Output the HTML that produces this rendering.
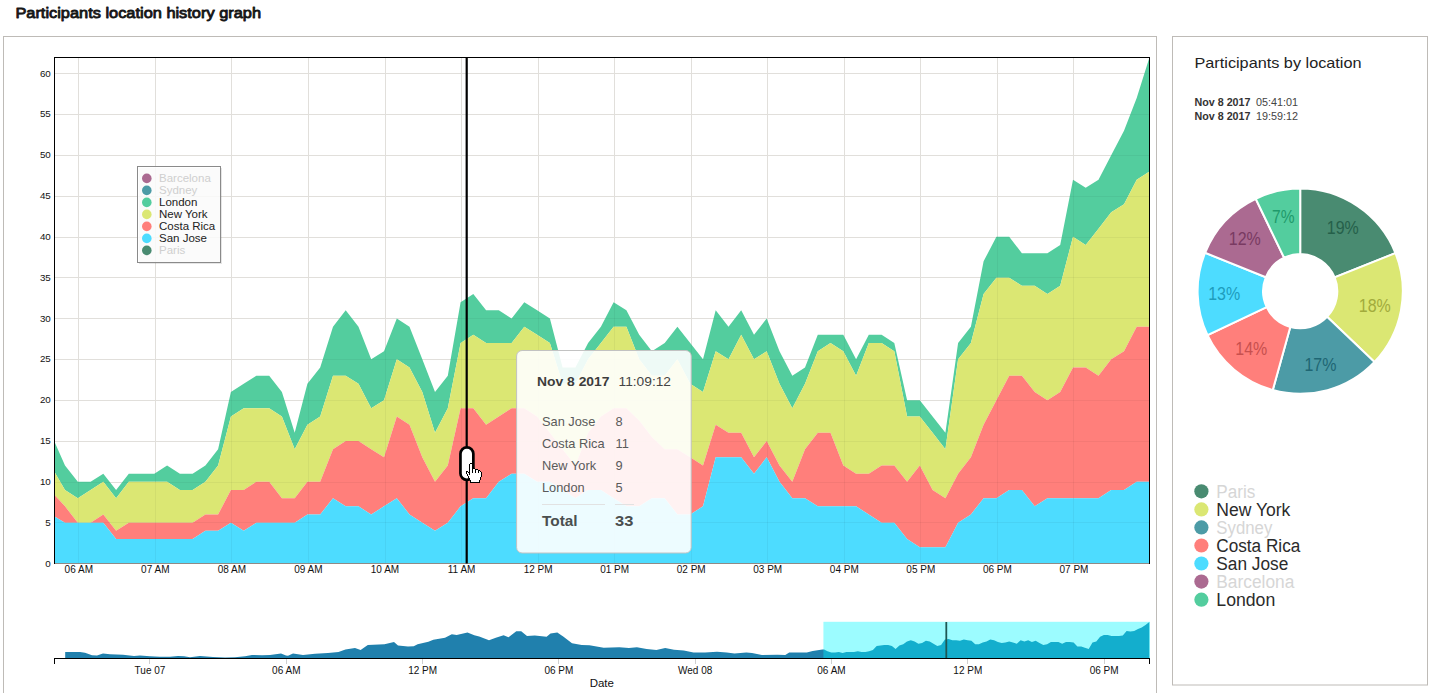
<!DOCTYPE html>
<html><head><meta charset="utf-8"><title>Participants location history graph</title>
<style>html,body{margin:0;padding:0;background:#fff;overflow:hidden}body{width:1433px;height:693px;position:relative;font-family:"Liberation Sans",sans-serif}</style>
</head><body>
<svg width="1433" height="693" viewBox="0 0 1433 693" style="position:absolute;left:0;top:0;font-family:'Liberation Sans',sans-serif">
<rect width="1433" height="693" fill="#fff"/>
<rect x="3.5" y="36.5" width="1153" height="700" fill="#fff" stroke="#bebbb7" stroke-width="1"/>
<rect x="1172.5" y="36.5" width="255" height="648.5" fill="#fff" stroke="#bebbb7" stroke-width="1"/>
<text x="15.4" y="18.0" font-size="15.0" fill="#161616" stroke="#161616" stroke-width="0.85" stroke-linejoin="round" textLength="245.6" lengthAdjust="spacingAndGlyphs">Participants location history graph</text>
<g stroke="#e1dfdb" stroke-width="1" shape-rendering="crispEdges">
<line x1="53.5" x2="1149.5" y1="563.50" y2="563.50"/>
<line x1="53.5" x2="1149.5" y1="522.50" y2="522.50"/>
<line x1="53.5" x2="1149.5" y1="482.50" y2="482.50"/>
<line x1="53.5" x2="1149.5" y1="441.50" y2="441.50"/>
<line x1="53.5" x2="1149.5" y1="400.50" y2="400.50"/>
<line x1="53.5" x2="1149.5" y1="359.50" y2="359.50"/>
<line x1="53.5" x2="1149.5" y1="318.50" y2="318.50"/>
<line x1="53.5" x2="1149.5" y1="277.50" y2="277.50"/>
<line x1="53.5" x2="1149.5" y1="237.50" y2="237.50"/>
<line x1="53.5" x2="1149.5" y1="196.50" y2="196.50"/>
<line x1="53.5" x2="1149.5" y1="155.50" y2="155.50"/>
<line x1="53.5" x2="1149.5" y1="114.50" y2="114.50"/>
<line x1="53.5" x2="1149.5" y1="73.50" y2="73.50"/>
<line x1="78.50" x2="78.50" y1="57.0" y2="563.5"/>
<line x1="155.50" x2="155.50" y1="57.0" y2="563.5"/>
<line x1="231.50" x2="231.50" y1="57.0" y2="563.5"/>
<line x1="308.50" x2="308.50" y1="57.0" y2="563.5"/>
<line x1="385.50" x2="385.50" y1="57.0" y2="563.5"/>
<line x1="461.50" x2="461.50" y1="57.0" y2="563.5"/>
<line x1="538.50" x2="538.50" y1="57.0" y2="563.5"/>
<line x1="614.50" x2="614.50" y1="57.0" y2="563.5"/>
<line x1="691.50" x2="691.50" y1="57.0" y2="563.5"/>
<line x1="767.50" x2="767.50" y1="57.0" y2="563.5"/>
<line x1="844.50" x2="844.50" y1="57.0" y2="563.5"/>
<line x1="920.50" x2="920.50" y1="57.0" y2="563.5"/>
<line x1="997.50" x2="997.50" y1="57.0" y2="563.5"/>
<line x1="1073.50" x2="1073.50" y1="57.0" y2="563.5"/>
</g>
<g>
<path d="M54.5,441.8 L65.0,465.5 L77.8,481.8 L90.6,481.8 L103.3,473.7 L116.1,490.0 L128.8,473.7 L141.6,473.7 L154.3,473.7 L167.1,465.5 L179.9,473.7 L192.6,473.7 L205.4,465.5 L218.1,449.2 L230.9,392.0 L243.7,383.8 L256.4,375.7 L269.2,375.7 L281.9,392.0 L294.7,432.8 L307.4,383.8 L320.2,367.5 L333.0,326.7 L345.7,310.3 L358.5,326.7 L371.2,359.3 L384.0,351.2 L396.8,318.5 L409.5,326.7 L422.3,359.3 L435.0,392.0 L447.8,375.7 L460.6,302.2 L473.3,294.0 L486.1,310.3 L498.8,310.3 L511.6,318.5 L524.3,302.2 L537.1,310.3 L549.9,318.5 L562.6,367.5 L575.4,367.5 L588.1,343.0 L600.9,326.7 L613.6,302.2 L626.4,310.3 L639.2,334.8 L651.9,351.2 L664.7,343.0 L677.4,326.7 L690.2,343.0 L703.0,359.3 L715.7,310.3 L728.5,326.7 L741.2,310.3 L754.0,334.8 L766.7,318.5 L779.5,351.2 L792.3,375.7 L805.0,367.5 L817.8,334.8 L830.5,334.8 L843.3,334.8 L856.1,359.3 L868.8,334.8 L881.6,334.8 L894.3,343.0 L907.1,400.2 L919.8,400.2 L932.6,416.5 L945.4,432.8 L958.1,343.0 L970.9,326.7 L983.6,261.3 L996.4,236.8 L1009.2,236.8 L1021.9,253.2 L1034.7,253.2 L1047.4,253.2 L1060.2,245.0 L1073.0,179.7 L1085.7,187.8 L1098.5,179.7 L1111.2,155.2 L1124.0,130.7 L1136.7,98.0 L1149.5,57.2 L1149.5,171.5 L1136.7,179.7 L1124.0,204.2 L1111.2,212.3 L1098.5,228.7 L1085.7,245.0 L1073.0,236.8 L1060.2,285.8 L1047.4,294.0 L1034.7,285.8 L1021.9,285.8 L1009.2,277.7 L996.4,277.7 L983.6,294.0 L970.9,343.0 L958.1,359.3 L945.4,449.2 L932.6,432.8 L919.8,416.5 L907.1,416.5 L894.3,351.2 L881.6,343.0 L868.8,343.0 L856.1,375.7 L843.3,351.2 L830.5,343.0 L817.8,351.2 L805.0,383.8 L792.3,408.3 L779.5,383.8 L766.7,351.2 L754.0,359.3 L741.2,334.8 L728.5,359.3 L715.7,351.2 L703.0,392.0 L690.2,383.8 L677.4,359.3 L664.7,375.7 L651.9,375.7 L639.2,359.3 L626.4,326.7 L613.6,326.7 L600.9,343.0 L588.1,359.3 L575.4,383.8 L562.6,383.8 L549.9,343.0 L537.1,334.8 L524.3,326.7 L511.6,343.0 L498.8,343.0 L486.1,343.0 L473.3,334.8 L460.6,343.0 L447.8,408.3 L435.0,432.8 L422.3,392.0 L409.5,367.5 L396.8,359.3 L384.0,400.2 L371.2,408.3 L358.5,383.8 L345.7,375.7 L333.0,375.7 L320.2,416.5 L307.4,424.7 L294.7,449.2 L281.9,416.5 L269.2,408.3 L256.4,408.3 L243.7,408.3 L230.9,416.5 L218.1,465.5 L205.4,481.8 L192.6,490.0 L179.9,490.0 L167.1,481.8 L154.3,481.8 L141.6,481.8 L128.8,481.8 L116.1,498.2 L103.3,481.8 L90.6,490.0 L77.8,498.2 L65.0,490.0 L54.5,472.0 Z" fill="#53cd9e"/>
<path d="M54.5,472.0 L65.0,490.0 L77.8,498.2 L90.6,490.0 L103.3,481.8 L116.1,498.2 L128.8,481.8 L141.6,481.8 L154.3,481.8 L167.1,481.8 L179.9,490.0 L192.6,490.0 L205.4,481.8 L218.1,465.5 L230.9,416.5 L243.7,408.3 L256.4,408.3 L269.2,408.3 L281.9,416.5 L294.7,449.2 L307.4,424.7 L320.2,416.5 L333.0,375.7 L345.7,375.7 L358.5,383.8 L371.2,408.3 L384.0,400.2 L396.8,359.3 L409.5,367.5 L422.3,392.0 L435.0,432.8 L447.8,408.3 L460.6,343.0 L473.3,334.8 L486.1,343.0 L498.8,343.0 L511.6,343.0 L524.3,326.7 L537.1,334.8 L549.9,343.0 L562.6,383.8 L575.4,383.8 L588.1,359.3 L600.9,343.0 L613.6,326.7 L626.4,326.7 L639.2,359.3 L651.9,375.7 L664.7,375.7 L677.4,359.3 L690.2,383.8 L703.0,392.0 L715.7,351.2 L728.5,359.3 L741.2,334.8 L754.0,359.3 L766.7,351.2 L779.5,383.8 L792.3,408.3 L805.0,383.8 L817.8,351.2 L830.5,343.0 L843.3,351.2 L856.1,375.7 L868.8,343.0 L881.6,343.0 L894.3,351.2 L907.1,416.5 L919.8,416.5 L932.6,432.8 L945.4,449.2 L958.1,359.3 L970.9,343.0 L983.6,294.0 L996.4,277.7 L1009.2,277.7 L1021.9,285.8 L1034.7,285.8 L1047.4,294.0 L1060.2,285.8 L1073.0,236.8 L1085.7,245.0 L1098.5,228.7 L1111.2,212.3 L1124.0,204.2 L1136.7,179.7 L1149.5,171.5 L1149.5,326.7 L1136.7,326.7 L1124.0,351.2 L1111.2,359.3 L1098.5,375.7 L1085.7,367.5 L1073.0,367.5 L1060.2,392.0 L1047.4,400.2 L1034.7,392.0 L1021.9,375.7 L1009.2,375.7 L996.4,400.2 L983.6,424.7 L970.9,457.3 L958.1,473.7 L945.4,498.2 L932.6,490.0 L919.8,465.5 L907.1,481.8 L894.3,465.5 L881.6,465.5 L868.8,473.7 L856.1,473.7 L843.3,465.5 L830.5,432.8 L817.8,432.8 L805.0,449.2 L792.3,481.8 L779.5,465.5 L766.7,441.0 L754.0,457.3 L741.2,432.8 L728.5,432.8 L715.7,424.7 L703.0,465.5 L690.2,457.3 L677.4,449.2 L664.7,449.2 L651.9,436.9 L639.2,420.6 L626.4,408.3 L613.6,408.3 L600.9,416.5 L588.1,432.8 L575.4,465.5 L562.6,449.2 L549.9,432.8 L537.1,416.5 L524.3,408.3 L511.6,408.3 L498.8,416.5 L486.1,424.7 L473.3,408.3 L460.6,408.3 L447.8,465.5 L435.0,481.8 L422.3,457.3 L409.5,424.7 L396.8,416.5 L384.0,457.3 L371.2,449.2 L358.5,441.0 L345.7,441.0 L333.0,449.2 L320.2,481.8 L307.4,481.8 L294.7,498.2 L281.9,498.2 L269.2,481.8 L256.4,481.8 L243.7,490.0 L230.9,490.0 L218.1,514.5 L205.4,514.5 L192.6,522.7 L179.9,522.7 L167.1,522.7 L154.3,522.7 L141.6,522.7 L128.8,522.7 L116.1,530.8 L103.3,514.5 L90.6,522.7 L77.8,522.7 L65.0,506.3 L54.5,494.9 Z" fill="#dbe773"/>
<path d="M54.5,494.9 L65.0,506.3 L77.8,522.7 L90.6,522.7 L103.3,514.5 L116.1,530.8 L128.8,522.7 L141.6,522.7 L154.3,522.7 L167.1,522.7 L179.9,522.7 L192.6,522.7 L205.4,514.5 L218.1,514.5 L230.9,490.0 L243.7,490.0 L256.4,481.8 L269.2,481.8 L281.9,498.2 L294.7,498.2 L307.4,481.8 L320.2,481.8 L333.0,449.2 L345.7,441.0 L358.5,441.0 L371.2,449.2 L384.0,457.3 L396.8,416.5 L409.5,424.7 L422.3,457.3 L435.0,481.8 L447.8,465.5 L460.6,408.3 L473.3,408.3 L486.1,424.7 L498.8,416.5 L511.6,408.3 L524.3,408.3 L537.1,416.5 L549.9,432.8 L562.6,449.2 L575.4,465.5 L588.1,432.8 L600.9,416.5 L613.6,408.3 L626.4,408.3 L639.2,420.6 L651.9,436.9 L664.7,449.2 L677.4,449.2 L690.2,457.3 L703.0,465.5 L715.7,424.7 L728.5,432.8 L741.2,432.8 L754.0,457.3 L766.7,441.0 L779.5,465.5 L792.3,481.8 L805.0,449.2 L817.8,432.8 L830.5,432.8 L843.3,465.5 L856.1,473.7 L868.8,473.7 L881.6,465.5 L894.3,465.5 L907.1,481.8 L919.8,465.5 L932.6,490.0 L945.4,498.2 L958.1,473.7 L970.9,457.3 L983.6,424.7 L996.4,400.2 L1009.2,375.7 L1021.9,375.7 L1034.7,392.0 L1047.4,400.2 L1060.2,392.0 L1073.0,367.5 L1085.7,367.5 L1098.5,375.7 L1111.2,359.3 L1124.0,351.2 L1136.7,326.7 L1149.5,326.7 L1149.5,481.8 L1136.7,481.8 L1124.0,490.0 L1111.2,490.0 L1098.5,498.2 L1085.7,498.2 L1073.0,498.2 L1060.2,498.2 L1047.4,498.2 L1034.7,506.3 L1021.9,490.0 L1009.2,490.0 L996.4,498.2 L983.6,498.2 L970.9,514.5 L958.1,522.7 L945.4,547.2 L932.6,547.2 L919.8,547.2 L907.1,539.0 L894.3,522.7 L881.6,522.7 L868.8,514.5 L856.1,506.3 L843.3,506.3 L830.5,506.3 L817.8,506.3 L805.0,498.2 L792.3,498.2 L779.5,481.8 L766.7,457.3 L754.0,473.7 L741.2,457.3 L728.5,457.3 L715.7,457.3 L703.0,506.3 L690.2,514.5 L677.4,514.5 L664.7,498.2 L651.9,498.2 L639.2,506.3 L626.4,506.3 L613.6,498.2 L600.9,490.0 L588.1,490.0 L575.4,498.2 L562.6,490.0 L549.9,481.8 L537.1,481.8 L524.3,473.7 L511.6,473.7 L498.8,481.8 L486.1,498.2 L473.3,498.2 L460.6,506.3 L447.8,522.7 L435.0,530.8 L422.3,522.7 L409.5,514.5 L396.8,498.2 L384.0,506.3 L371.2,514.5 L358.5,506.3 L345.7,506.3 L333.0,498.2 L320.2,514.5 L307.4,514.5 L294.7,522.7 L281.9,522.7 L269.2,522.7 L256.4,522.7 L243.7,530.8 L230.9,522.7 L218.1,530.8 L205.4,530.8 L192.6,539.0 L179.9,539.0 L167.1,539.0 L154.3,539.0 L141.6,539.0 L128.8,539.0 L116.1,539.0 L103.3,522.7 L90.6,522.7 L77.8,522.7 L65.0,522.7 L54.5,516.5 Z" fill="#ff7f7b"/>
<path d="M54.5,516.5 L65.0,522.7 L77.8,522.7 L90.6,522.7 L103.3,522.7 L116.1,539.0 L128.8,539.0 L141.6,539.0 L154.3,539.0 L167.1,539.0 L179.9,539.0 L192.6,539.0 L205.4,530.8 L218.1,530.8 L230.9,522.7 L243.7,530.8 L256.4,522.7 L269.2,522.7 L281.9,522.7 L294.7,522.7 L307.4,514.5 L320.2,514.5 L333.0,498.2 L345.7,506.3 L358.5,506.3 L371.2,514.5 L384.0,506.3 L396.8,498.2 L409.5,514.5 L422.3,522.7 L435.0,530.8 L447.8,522.7 L460.6,506.3 L473.3,498.2 L486.1,498.2 L498.8,481.8 L511.6,473.7 L524.3,473.7 L537.1,481.8 L549.9,481.8 L562.6,490.0 L575.4,498.2 L588.1,490.0 L600.9,490.0 L613.6,498.2 L626.4,506.3 L639.2,506.3 L651.9,498.2 L664.7,498.2 L677.4,514.5 L690.2,514.5 L703.0,506.3 L715.7,457.3 L728.5,457.3 L741.2,457.3 L754.0,473.7 L766.7,457.3 L779.5,481.8 L792.3,498.2 L805.0,498.2 L817.8,506.3 L830.5,506.3 L843.3,506.3 L856.1,506.3 L868.8,514.5 L881.6,522.7 L894.3,522.7 L907.1,539.0 L919.8,547.2 L932.6,547.2 L945.4,547.2 L958.1,522.7 L970.9,514.5 L983.6,498.2 L996.4,498.2 L1009.2,490.0 L1021.9,490.0 L1034.7,506.3 L1047.4,498.2 L1060.2,498.2 L1073.0,498.2 L1085.7,498.2 L1098.5,498.2 L1111.2,490.0 L1124.0,490.0 L1136.7,481.8 L1149.5,481.8 L1149.5,563.5 L54.5,563.5 Z" fill="#4ddcff"/>
</g>
<clipPath id="ca"><path d="M54.5,441.8 L65.0,465.5 L77.8,481.8 L90.6,481.8 L103.3,473.7 L116.1,490.0 L128.8,473.7 L141.6,473.7 L154.3,473.7 L167.1,465.5 L179.9,473.7 L192.6,473.7 L205.4,465.5 L218.1,449.2 L230.9,392.0 L243.7,383.8 L256.4,375.7 L269.2,375.7 L281.9,392.0 L294.7,432.8 L307.4,383.8 L320.2,367.5 L333.0,326.7 L345.7,310.3 L358.5,326.7 L371.2,359.3 L384.0,351.2 L396.8,318.5 L409.5,326.7 L422.3,359.3 L435.0,392.0 L447.8,375.7 L460.6,302.2 L473.3,294.0 L486.1,310.3 L498.8,310.3 L511.6,318.5 L524.3,302.2 L537.1,310.3 L549.9,318.5 L562.6,367.5 L575.4,367.5 L588.1,343.0 L600.9,326.7 L613.6,302.2 L626.4,310.3 L639.2,334.8 L651.9,351.2 L664.7,343.0 L677.4,326.7 L690.2,343.0 L703.0,359.3 L715.7,310.3 L728.5,326.7 L741.2,310.3 L754.0,334.8 L766.7,318.5 L779.5,351.2 L792.3,375.7 L805.0,367.5 L817.8,334.8 L830.5,334.8 L843.3,334.8 L856.1,359.3 L868.8,334.8 L881.6,334.8 L894.3,343.0 L907.1,400.2 L919.8,400.2 L932.6,416.5 L945.4,432.8 L958.1,343.0 L970.9,326.7 L983.6,261.3 L996.4,236.8 L1009.2,236.8 L1021.9,253.2 L1034.7,253.2 L1047.4,253.2 L1060.2,245.0 L1073.0,179.7 L1085.7,187.8 L1098.5,179.7 L1111.2,155.2 L1124.0,130.7 L1136.7,98.0 L1149.5,57.2 L1149.5,563.5 L54.5,563.5 Z"/></clipPath>
<g stroke="#000" stroke-opacity="0.045" stroke-width="1" clip-path="url(#ca)" shape-rendering="crispEdges">
<line x1="54.5" x2="1149.5" y1="522.50" y2="522.50"/>
<line x1="54.5" x2="1149.5" y1="482.50" y2="482.50"/>
<line x1="54.5" x2="1149.5" y1="441.50" y2="441.50"/>
<line x1="54.5" x2="1149.5" y1="400.50" y2="400.50"/>
<line x1="54.5" x2="1149.5" y1="359.50" y2="359.50"/>
<line x1="54.5" x2="1149.5" y1="318.50" y2="318.50"/>
<line x1="54.5" x2="1149.5" y1="277.50" y2="277.50"/>
<line x1="54.5" x2="1149.5" y1="237.50" y2="237.50"/>
<line x1="54.5" x2="1149.5" y1="196.50" y2="196.50"/>
<line x1="54.5" x2="1149.5" y1="155.50" y2="155.50"/>
<line x1="54.5" x2="1149.5" y1="114.50" y2="114.50"/>
<line x1="54.5" x2="1149.5" y1="73.50" y2="73.50"/>
<line x1="78.50" x2="78.50" y1="57.0" y2="563.5"/>
<line x1="155.50" x2="155.50" y1="57.0" y2="563.5"/>
<line x1="231.50" x2="231.50" y1="57.0" y2="563.5"/>
<line x1="308.50" x2="308.50" y1="57.0" y2="563.5"/>
<line x1="385.50" x2="385.50" y1="57.0" y2="563.5"/>
<line x1="461.50" x2="461.50" y1="57.0" y2="563.5"/>
<line x1="538.50" x2="538.50" y1="57.0" y2="563.5"/>
<line x1="614.50" x2="614.50" y1="57.0" y2="563.5"/>
<line x1="691.50" x2="691.50" y1="57.0" y2="563.5"/>
<line x1="767.50" x2="767.50" y1="57.0" y2="563.5"/>
<line x1="844.50" x2="844.50" y1="57.0" y2="563.5"/>
<line x1="920.50" x2="920.50" y1="57.0" y2="563.5"/>
<line x1="997.50" x2="997.50" y1="57.0" y2="563.5"/>
<line x1="1073.50" x2="1073.50" y1="57.0" y2="563.5"/>
</g>
<line x1="54.5" x2="1149.5" y1="563.5" y2="563.5" stroke="#8f8a86" stroke-width="1" shape-rendering="crispEdges"/>
<path d="M54.5,564.0 L54.5,57.5 L1149.5,57.5 L1149.5,564.0" fill="none" stroke="#000" stroke-width="1.15" shape-rendering="crispEdges"/>
<g font-size="9.8" fill="#111" text-anchor="end">
<text x="50.8" y="566.5">0</text>
<text x="50.8" y="525.7">5</text>
<text x="50.8" y="484.8">10</text>
<text x="50.8" y="444.0">15</text>
<text x="50.8" y="403.2">20</text>
<text x="50.8" y="362.3">25</text>
<text x="50.8" y="321.5">30</text>
<text x="50.8" y="280.7">35</text>
<text x="50.8" y="239.8">40</text>
<text x="50.8" y="199.0">45</text>
<text x="50.8" y="158.2">50</text>
<text x="50.8" y="117.3">55</text>
<text x="50.8" y="76.5">60</text>
</g>
<g font-size="10" fill="#111" text-anchor="middle">
<text x="78.8" y="573.4">06 AM</text>
<text x="155.3" y="573.4">07 AM</text>
<text x="231.9" y="573.4">08 AM</text>
<text x="308.4" y="573.4">09 AM</text>
<text x="385.0" y="573.4">10 AM</text>
<text x="461.6" y="573.4">11 AM</text>
<text x="538.1" y="573.4">12 PM</text>
<text x="614.6" y="573.4">01 PM</text>
<text x="691.2" y="573.4">02 PM</text>
<text x="767.7" y="573.4">03 PM</text>
<text x="844.3" y="573.4">04 PM</text>
<text x="920.8" y="573.4">05 PM</text>
<text x="997.4" y="573.4">06 PM</text>
<text x="1074.0" y="573.4">07 PM</text>
</g>
<rect x="139" y="168" width="83" height="96" fill="#000" fill-opacity="0.10"/>
<rect x="137.5" y="166.5" width="83" height="96" fill="#fff" fill-opacity="0.85" stroke="#8a8a8a" stroke-width="1"/>
<circle cx="146.8" cy="178.4" r="4.8" fill="#ab6a91"/>
<text x="159" y="182.4" font-size="11.5" fill="#cfcfcf">Barcelona</text>
<circle cx="146.8" cy="190.4" r="4.8" fill="#4c9ba6"/>
<text x="159" y="194.4" font-size="11.5" fill="#cfcfcf">Sydney</text>
<circle cx="146.8" cy="202.4" r="4.8" fill="#53cd9e"/>
<text x="159" y="206.4" font-size="11.5" fill="#222">London</text>
<circle cx="146.8" cy="214.4" r="4.8" fill="#dbe773"/>
<text x="159" y="218.4" font-size="11.5" fill="#222">New York</text>
<circle cx="146.8" cy="226.4" r="4.8" fill="#ff7f7b"/>
<text x="159" y="230.4" font-size="11.5" fill="#222">Costa Rica</text>
<circle cx="146.8" cy="238.4" r="4.8" fill="#4ddcff"/>
<text x="159" y="242.4" font-size="11.5" fill="#222">San Jose</text>
<circle cx="146.8" cy="250.4" r="4.8" fill="#498b71"/>
<text x="159" y="254.4" font-size="11.5" fill="#cfcfcf">Paris</text>
<line x1="466.7" x2="466.7" y1="57" y2="563.5" stroke="#000" stroke-width="2.2"/>
<rect x="460.45" y="447.4" width="12.9" height="32.5" rx="6.45" fill="#fff" stroke="#000" stroke-width="2.7"/>
<g shape-rendering="crispEdges">
<rect x="469.82" y="462.50" width="2.06" height="1.08" fill="#fff"/>
<rect x="468.79" y="463.53" width="4.12" height="1.08" fill="#fff"/>
<rect x="468.79" y="464.56" width="4.12" height="1.08" fill="#fff"/>
<rect x="468.79" y="465.59" width="4.12" height="1.08" fill="#fff"/>
<rect x="468.79" y="466.62" width="4.12" height="1.08" fill="#fff"/>
<rect x="468.79" y="467.65" width="6.18" height="1.08" fill="#fff"/>
<rect x="468.79" y="468.68" width="9.27" height="1.08" fill="#fff"/>
<rect x="468.79" y="469.71" width="11.33" height="1.08" fill="#fff"/>
<rect x="465.70" y="470.74" width="15.45" height="1.08" fill="#fff"/>
<rect x="465.70" y="471.77" width="16.48" height="1.08" fill="#fff"/>
<rect x="465.70" y="472.80" width="16.48" height="1.08" fill="#fff"/>
<rect x="466.73" y="473.83" width="15.45" height="1.08" fill="#fff"/>
<rect x="466.73" y="474.86" width="15.45" height="1.08" fill="#fff"/>
<rect x="467.76" y="475.89" width="14.42" height="1.08" fill="#fff"/>
<rect x="467.76" y="476.92" width="13.39" height="1.08" fill="#fff"/>
<rect x="468.79" y="477.95" width="12.36" height="1.08" fill="#fff"/>
<rect x="468.79" y="478.98" width="12.36" height="1.08" fill="#fff"/>
<rect x="469.82" y="480.01" width="10.30" height="1.08" fill="#fff"/>
<rect x="469.82" y="481.04" width="10.30" height="1.08" fill="#fff"/>
<rect x="469.82" y="482.07" width="10.30" height="1.08" fill="#fff"/>
<rect x="469.82" y="462.50" width="1.08" height="1.08" fill="#000"/>
<rect x="470.85" y="462.50" width="1.08" height="1.08" fill="#000"/>
<rect x="468.79" y="463.53" width="1.08" height="1.08" fill="#000"/>
<rect x="471.88" y="463.53" width="1.08" height="1.08" fill="#000"/>
<rect x="468.79" y="464.56" width="1.08" height="1.08" fill="#000"/>
<rect x="471.88" y="464.56" width="1.08" height="1.08" fill="#000"/>
<rect x="468.79" y="465.59" width="1.08" height="1.08" fill="#000"/>
<rect x="471.88" y="465.59" width="1.08" height="1.08" fill="#000"/>
<rect x="468.79" y="466.62" width="1.08" height="1.08" fill="#000"/>
<rect x="471.88" y="466.62" width="1.08" height="1.08" fill="#000"/>
<rect x="468.79" y="467.65" width="1.08" height="1.08" fill="#000"/>
<rect x="471.88" y="467.65" width="1.08" height="1.08" fill="#000"/>
<rect x="472.91" y="467.65" width="1.08" height="1.08" fill="#000"/>
<rect x="473.94" y="467.65" width="1.08" height="1.08" fill="#000"/>
<rect x="468.79" y="468.68" width="1.08" height="1.08" fill="#000"/>
<rect x="471.88" y="468.68" width="1.08" height="1.08" fill="#000"/>
<rect x="474.97" y="468.68" width="1.08" height="1.08" fill="#000"/>
<rect x="476.00" y="468.68" width="1.08" height="1.08" fill="#000"/>
<rect x="477.03" y="468.68" width="1.08" height="1.08" fill="#000"/>
<rect x="468.79" y="469.71" width="1.08" height="1.08" fill="#000"/>
<rect x="471.88" y="469.71" width="1.08" height="1.08" fill="#000"/>
<rect x="474.97" y="469.71" width="1.08" height="1.08" fill="#000"/>
<rect x="478.06" y="469.71" width="1.08" height="1.08" fill="#000"/>
<rect x="479.09" y="469.71" width="1.08" height="1.08" fill="#000"/>
<rect x="465.70" y="470.74" width="1.08" height="1.08" fill="#000"/>
<rect x="466.73" y="470.74" width="1.08" height="1.08" fill="#000"/>
<rect x="468.79" y="470.74" width="1.08" height="1.08" fill="#000"/>
<rect x="471.88" y="470.74" width="1.08" height="1.08" fill="#000"/>
<rect x="474.97" y="470.74" width="1.08" height="1.08" fill="#000"/>
<rect x="478.06" y="470.74" width="1.08" height="1.08" fill="#000"/>
<rect x="480.12" y="470.74" width="1.08" height="1.08" fill="#000"/>
<rect x="465.70" y="471.77" width="1.08" height="1.08" fill="#000"/>
<rect x="467.76" y="471.77" width="1.08" height="1.08" fill="#000"/>
<rect x="468.79" y="471.77" width="1.08" height="1.08" fill="#000"/>
<rect x="471.88" y="471.77" width="1.08" height="1.08" fill="#000"/>
<rect x="474.97" y="471.77" width="1.08" height="1.08" fill="#000"/>
<rect x="478.06" y="471.77" width="1.08" height="1.08" fill="#000"/>
<rect x="481.15" y="471.77" width="1.08" height="1.08" fill="#000"/>
<rect x="465.70" y="472.80" width="1.08" height="1.08" fill="#000"/>
<rect x="468.79" y="472.80" width="1.08" height="1.08" fill="#000"/>
<rect x="481.15" y="472.80" width="1.08" height="1.08" fill="#000"/>
<rect x="466.73" y="473.83" width="1.08" height="1.08" fill="#000"/>
<rect x="468.79" y="473.83" width="1.08" height="1.08" fill="#000"/>
<rect x="481.15" y="473.83" width="1.08" height="1.08" fill="#000"/>
<rect x="466.73" y="474.86" width="1.08" height="1.08" fill="#000"/>
<rect x="481.15" y="474.86" width="1.08" height="1.08" fill="#000"/>
<rect x="467.76" y="475.89" width="1.08" height="1.08" fill="#000"/>
<rect x="481.15" y="475.89" width="1.08" height="1.08" fill="#000"/>
<rect x="467.76" y="476.92" width="1.08" height="1.08" fill="#000"/>
<rect x="480.12" y="476.92" width="1.08" height="1.08" fill="#000"/>
<rect x="468.79" y="477.95" width="1.08" height="1.08" fill="#000"/>
<rect x="480.12" y="477.95" width="1.08" height="1.08" fill="#000"/>
<rect x="468.79" y="478.98" width="1.08" height="1.08" fill="#000"/>
<rect x="480.12" y="478.98" width="1.08" height="1.08" fill="#000"/>
<rect x="469.82" y="480.01" width="1.08" height="1.08" fill="#000"/>
<rect x="479.09" y="480.01" width="1.08" height="1.08" fill="#000"/>
<rect x="469.82" y="481.04" width="1.08" height="1.08" fill="#000"/>
<rect x="479.09" y="481.04" width="1.08" height="1.08" fill="#000"/>
<rect x="469.82" y="482.07" width="1.08" height="1.08" fill="#000"/>
<rect x="470.85" y="482.07" width="1.08" height="1.08" fill="#000"/>
<rect x="471.88" y="482.07" width="1.08" height="1.08" fill="#000"/>
<rect x="472.91" y="482.07" width="1.08" height="1.08" fill="#000"/>
<rect x="473.94" y="482.07" width="1.08" height="1.08" fill="#000"/>
<rect x="474.97" y="482.07" width="1.08" height="1.08" fill="#000"/>
<rect x="476.00" y="482.07" width="1.08" height="1.08" fill="#000"/>
<rect x="477.03" y="482.07" width="1.08" height="1.08" fill="#000"/>
<rect x="478.06" y="482.07" width="1.08" height="1.08" fill="#000"/>
<rect x="479.09" y="482.07" width="1.08" height="1.08" fill="#000"/>
</g>
<rect x="516.6" y="350.5" width="174.6" height="202.5" rx="5.5" fill="#fff" fill-opacity="0.9" stroke="#c2c2c2" stroke-width="1"/>
<text x="537" y="386" font-size="13.6" font-weight="bold" fill="#3c3c3c" textLength="72.5" lengthAdjust="spacingAndGlyphs">Nov 8 2017</text>
<text x="618.5" y="386" font-size="13.6" fill="#444" textLength="52.5" lengthAdjust="spacingAndGlyphs">11:09:12</text>
<text x="542" y="426.0" font-size="12.8" fill="#5a5a5a">San Jose</text>
<text x="615.5" y="426.0" font-size="12.8" fill="#5a5a5a">8</text>
<text x="542" y="448.0" font-size="12.8" fill="#5a5a5a">Costa Rica</text>
<text x="615.5" y="448.0" font-size="12.8" fill="#5a5a5a">11</text>
<text x="542" y="470.0" font-size="12.8" fill="#5a5a5a">New York</text>
<text x="615.5" y="470.0" font-size="12.8" fill="#5a5a5a">9</text>
<text x="542" y="492.0" font-size="12.8" fill="#5a5a5a">London</text>
<text x="615.5" y="492.0" font-size="12.8" fill="#5a5a5a">5</text>
<line x1="542" x2="605" y1="504.5" y2="504.5" stroke="#e2e2e2" stroke-width="1"/>
<line x1="615" x2="634" y1="504.5" y2="504.5" stroke="#e2e2e2" stroke-width="1"/>
<text x="542" y="525.5" font-size="15.4" font-weight="bold" fill="#4a4f4f">Total</text>
<text x="615" y="525.5" font-size="15.4" font-weight="bold" fill="#4a4f4f" textLength="18.3" lengthAdjust="spacingAndGlyphs">33</text>
<path d="M65.2,658.3 L65.2,652.1 L80.0,652.1 L85.0,652.8 L92.0,655.3 L97.0,655.6 L103.0,653.6 L110.0,654.3 L123.0,654.8 L134.0,656.0 L140.0,655.6 L150.0,656.3 L160.0,656.8 L170.0,656.8 L178.0,656.0 L184.0,656.3 L190.0,657.3 L200.0,656.1 L213.0,656.9 L225.0,657.5 L235.0,657.3 L245.0,656.3 L252.0,655.0 L262.0,655.3 L270.0,655.0 L281.0,653.5 L286.0,655.4 L288.0,655.8 L293.0,653.6 L303.0,655.0 L315.0,653.8 L328.0,653.0 L338.5,652.1 L345.4,649.5 L355.0,648.1 L360.6,650.1 L367.8,645.0 L384.5,644.3 L394.0,642.1 L398.0,645.6 L408.0,646.6 L413.7,646.2 L417.6,644.3 L428.4,641.7 L433.3,639.8 L445.0,637.8 L451.8,634.3 L456.7,634.9 L467.5,632.5 L474.3,635.3 L479.2,636.4 L489.0,640.3 L495.8,637.8 L503.6,635.3 L508.5,637.2 L516.3,631.3 L521.2,631.3 L527.0,636.0 L534.8,635.4 L546.6,636.8 L550.5,633.5 L557.3,632.5 L563.2,636.4 L572.0,643.3 L581.7,645.0 L589.5,645.2 L603.7,647.8 L619.3,647.2 L629.0,647.9 L636.9,647.2 L646.6,648.9 L656.4,649.9 L665.2,648.1 L674.0,649.7 L683.8,650.5 L693.5,652.4 L705.0,652.4 L717.0,651.7 L726.7,652.4 L734.5,653.6 L746.3,652.6 L752.0,653.0 L761.9,655.0 L777.5,654.8 L785.3,655.0 L789.2,652.4 L806.8,652.4 L812.7,650.9 L822.4,649.5 L824.1,649.6 L827.5,651.3 L831.3,652.5 L835.1,652.5 L838.9,651.9 L842.6,653.0 L846.4,651.9 L850.2,651.9 L854.0,651.9 L857.8,651.3 L861.6,651.9 L865.4,651.9 L869.1,651.3 L872.9,650.1 L876.7,646.0 L880.5,645.5 L884.3,644.9 L888.1,644.9 L891.9,646.0 L895.6,649.0 L899.4,645.5 L903.2,644.3 L907.0,641.4 L910.8,640.2 L914.6,641.4 L918.4,643.7 L922.1,643.1 L925.9,640.8 L929.7,641.4 L933.5,643.7 L937.3,646.0 L941.1,644.9 L944.9,639.6 L948.6,639.0 L952.4,640.2 L956.2,640.2 L960.0,640.8 L963.8,639.6 L967.6,640.2 L971.4,640.8 L975.2,644.3 L978.9,644.3 L982.7,642.5 L986.5,641.4 L990.3,639.6 L994.1,640.2 L997.9,642.0 L1001.7,643.1 L1005.4,642.5 L1009.2,641.4 L1013.0,642.5 L1016.8,643.7 L1020.6,640.2 L1024.4,641.4 L1028.2,640.2 L1031.9,642.0 L1035.7,640.8 L1039.5,643.1 L1043.3,644.9 L1047.1,644.3 L1050.9,642.0 L1054.7,642.0 L1058.4,642.0 L1062.2,643.7 L1066.0,642.0 L1069.8,642.0 L1073.6,642.5 L1077.4,646.6 L1081.2,646.6 L1084.9,647.8 L1088.7,649.0 L1092.5,642.5 L1096.3,641.4 L1100.1,636.7 L1103.9,634.9 L1107.7,634.9 L1111.5,636.1 L1115.2,636.1 L1119.0,636.1 L1122.8,635.5 L1126.6,630.9 L1130.4,631.4 L1134.2,630.9 L1138.0,629.1 L1141.7,627.4 L1145.5,625.0 L1149.3,622.1 L1149.3,658.3 Z" fill="#2080ad"/>
<rect x="823.4" y="621.8" width="326.6" height="36.2" fill="#00f8ff" fill-opacity="0.39"/>
<line x1="946.3" x2="946.3" y1="622" y2="658" stroke="#1f5754" stroke-width="1.8"/>
<path d="M54.5,664 L54.5,658.5 L1149.5,658.5 L1149.5,664" fill="none" stroke="#000" stroke-width="1.1" shape-rendering="crispEdges"/>
<g font-size="10" fill="#111" text-anchor="middle">
<line x1="149.5" x2="149.5" y1="659" y2="664" stroke="#cfcfcf" stroke-width="1" shape-rendering="crispEdges"/>
<text x="150.0" y="674">Tue 07</text>
<line x1="286.5" x2="286.5" y1="659" y2="664" stroke="#cfcfcf" stroke-width="1" shape-rendering="crispEdges"/>
<text x="286.3" y="674">06 AM</text>
<line x1="422.5" x2="422.5" y1="659" y2="664" stroke="#cfcfcf" stroke-width="1" shape-rendering="crispEdges"/>
<text x="422.6" y="674">12 PM</text>
<line x1="558.5" x2="558.5" y1="659" y2="664" stroke="#cfcfcf" stroke-width="1" shape-rendering="crispEdges"/>
<text x="558.9" y="674">06 PM</text>
<line x1="695.5" x2="695.5" y1="659" y2="664" stroke="#cfcfcf" stroke-width="1" shape-rendering="crispEdges"/>
<text x="695.2" y="674">Wed 08</text>
<line x1="831.5" x2="831.5" y1="659" y2="664" stroke="#cfcfcf" stroke-width="1" shape-rendering="crispEdges"/>
<text x="831.5" y="674">06 AM</text>
<line x1="967.5" x2="967.5" y1="659" y2="664" stroke="#cfcfcf" stroke-width="1" shape-rendering="crispEdges"/>
<text x="967.8" y="674">12 PM</text>
<line x1="1104.5" x2="1104.5" y1="659" y2="664" stroke="#cfcfcf" stroke-width="1" shape-rendering="crispEdges"/>
<text x="1104.1" y="674">06 PM</text>
</g>
<text x="601.8" y="687" font-size="11.5" fill="#111" text-anchor="middle">Date</text>
<text x="1194.5" y="68" font-size="15" fill="#222" textLength="167" lengthAdjust="spacingAndGlyphs">Participants by location</text>
<text x="1194.5" y="106" font-size="10.6" font-weight="bold" fill="#333" textLength="56" lengthAdjust="spacingAndGlyphs">Nov 8 2017</text>
<text x="1256" y="106" font-size="10.6" fill="#444" textLength="42" lengthAdjust="spacingAndGlyphs">05:41:01</text>
<text x="1194.5" y="120" font-size="10.6" font-weight="bold" fill="#333" textLength="56" lengthAdjust="spacingAndGlyphs">Nov 8 2017</text>
<text x="1256" y="120" font-size="10.6" fill="#444" textLength="42" lengthAdjust="spacingAndGlyphs">19:59:12</text>
<path d="M1300.20,188.60 A102.6,102.6 0 0 1 1395.46,253.10 L1334.65,277.42 A37.1,37.1 0 0 0 1300.20,254.10 Z" fill="#498b71" stroke="#fff" stroke-width="2"/>
<text x="1342.8" y="234.3" font-size="17.5" fill="#25604a" text-anchor="middle" textLength="32" lengthAdjust="spacingAndGlyphs">19%</text>
<path d="M1395.46,253.10 A102.6,102.6 0 0 1 1374.50,361.95 L1327.07,316.78 A37.1,37.1 0 0 0 1334.65,277.42 Z" fill="#dbe773" stroke="#fff" stroke-width="2"/>
<text x="1374.8" y="311.6" font-size="17.5" fill="#a2ab3c" text-anchor="middle" textLength="32" lengthAdjust="spacingAndGlyphs">18%</text>
<path d="M1374.50,361.95 A102.6,102.6 0 0 1 1272.78,390.07 L1290.29,326.95 A37.1,37.1 0 0 0 1327.07,316.78 Z" fill="#4c9ba6" stroke="#fff" stroke-width="2"/>
<text x="1320.4" y="370.5" font-size="17.5" fill="#1f6673" text-anchor="middle" textLength="32" lengthAdjust="spacingAndGlyphs">17%</text>
<path d="M1272.78,390.07 A102.6,102.6 0 0 1 1207.52,335.21 L1266.69,307.11 A37.1,37.1 0 0 0 1290.29,326.95 Z" fill="#ff7f7b" stroke="#fff" stroke-width="2"/>
<text x="1251.3" y="355.4" font-size="17.5" fill="#c8504e" text-anchor="middle" textLength="32" lengthAdjust="spacingAndGlyphs">14%</text>
<path d="M1207.52,335.21 A102.6,102.6 0 0 1 1205.07,252.77 L1265.80,277.30 A37.1,37.1 0 0 0 1266.69,307.11 Z" fill="#4ddcff" stroke="#fff" stroke-width="2"/>
<text x="1224.2" y="299.5" font-size="17.5" fill="#1e9dbd" text-anchor="middle" textLength="32" lengthAdjust="spacingAndGlyphs">13%</text>
<path d="M1205.07,252.77 A102.6,102.6 0 0 1 1255.71,198.75 L1284.11,257.77 A37.1,37.1 0 0 0 1265.80,277.30 Z" fill="#ab6a91" stroke="#fff" stroke-width="2"/>
<text x="1244.8" y="245.2" font-size="17.5" fill="#793a62" text-anchor="middle" textLength="32" lengthAdjust="spacingAndGlyphs">12%</text>
<path d="M1255.71,198.75 A102.6,102.6 0 0 1 1300.20,188.60 L1300.20,254.10 A37.1,37.1 0 0 0 1284.11,257.77 Z" fill="#53cd9e" stroke="#fff" stroke-width="2"/>
<text x="1283.3" y="223.1" font-size="17.5" fill="#1f9a6b" text-anchor="middle" textLength="22.5" lengthAdjust="spacingAndGlyphs">7%</text>
<circle cx="1201.4" cy="491.3" r="7.1" fill="#498b71"/>
<text x="1216.3" y="497.5" font-size="18" fill="#d6d6d6" textLength="39" lengthAdjust="spacingAndGlyphs">Paris</text>
<circle cx="1201.4" cy="509.4" r="7.1" fill="#dbe773"/>
<text x="1216.3" y="515.6" font-size="18" fill="#2b2b2b" textLength="74" lengthAdjust="spacingAndGlyphs">New York</text>
<circle cx="1201.4" cy="527.4" r="7.1" fill="#4c9ba6"/>
<text x="1216.3" y="533.6" font-size="18" fill="#d6d6d6" textLength="56" lengthAdjust="spacingAndGlyphs">Sydney</text>
<circle cx="1201.4" cy="545.5" r="7.1" fill="#ff7f7b"/>
<text x="1216.3" y="551.7" font-size="18" fill="#2b2b2b" textLength="84" lengthAdjust="spacingAndGlyphs">Costa Rica</text>
<circle cx="1201.4" cy="563.5" r="7.1" fill="#4ddcff"/>
<text x="1216.3" y="569.7" font-size="18" fill="#2b2b2b" textLength="72" lengthAdjust="spacingAndGlyphs">San Jose</text>
<circle cx="1201.4" cy="581.6" r="7.1" fill="#ab6a91"/>
<text x="1216.3" y="587.8" font-size="18" fill="#d6d6d6" textLength="78" lengthAdjust="spacingAndGlyphs">Barcelona</text>
<circle cx="1201.4" cy="599.7" r="7.1" fill="#53cd9e"/>
<text x="1216.3" y="605.9" font-size="18" fill="#2b2b2b" textLength="59" lengthAdjust="spacingAndGlyphs">London</text>
</svg>
</body></html>
